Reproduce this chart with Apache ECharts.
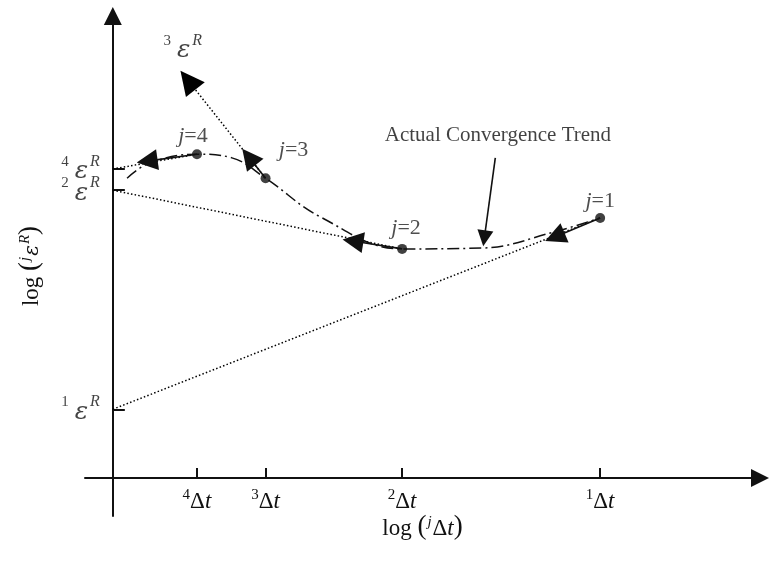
<!DOCTYPE html>
<html>
<head>
<meta charset="utf-8">
<script src="https://cdn.jsdelivr.net/npm/echarts@6/dist/echarts.min.js"></script>
<style>
html,body{margin:0;padding:0;background:#fff;}
#J_Main{width:771px;height:566px;}
</style>
</head>
<body>
<div id="J_Main"></div>
<script>
// step index j and where each step sits (log dt, log eps)
var stepNames = ['1', '2', '3', '4'];
var stepLogDt = [7.53, 4.47, 2.36, 1.30];
var stepLogEps = [5.63, 4.96, 6.49, 7.01];

// x tick marks (log of jΔt)
var dtTickValues = [1.30, 2.36, 4.47, 7.53];
var dtTickNames = ['4', '3', '2', '1'];

// extrapolated eps^R read on the y axis (x = 0)
var epsTickValues = [1.49, 6.23, 6.69];
var epsTickNames = ['1', '2', '4'];
var epsFromStep = [0, 1, 3];

// j=3 extrapolation runs off the top, ends in an arrow
var eps3TipX = 1.16, eps3TipY = 8.61;
var eps3LabelX = 1.08, eps3LabelY = 9.31;

// short solid arrows leaving each step point
var arrowEndX = [6.83, 3.71, 2.10, 0.53];
var arrowEndY = [5.22, 5.13, 6.95, 6.86];

// actual convergence trend (dash dot curve)
var trendX = [0.22, 0.57, 1.30, 1.84, 2.36, 3.21, 4.47, 5.72, 6.80, 7.53];
var trendY = [6.49, 6.82, 7.01, 6.93, 6.49, 5.65, 4.96, 4.98, 5.32, 5.63];

// annotation
var noteText = 'Actual Convergence Trend';
var noteX = 5.95, noteY = 7.42;
var noteArrowFrom = [5.91, 6.93];
var noteArrowTo = [5.74, 5.19];

var FONT = 'Liberation Serif';
var GREEK = 'DejaVu Serif';
var INK = '#111';

var epsRich = {
    s: {fontSize: 15, fontFamily: FONT, color: INK, verticalAlign: 'bottom', padding: [0, 6, 15, 0]},
    e: {fontSize: 25, fontFamily: GREEK, fontStyle: 'italic', color: INK, verticalAlign: 'bottom'},
    r: {fontSize: 16, fontFamily: FONT, fontStyle: 'italic', color: INK, verticalAlign: 'bottom', padding: [0, 0, 15, 2]}
};
var epsFormat = function(name){ return '{s|' + name + '}{e|ε}{r|R}'; };

var nameRich = {
    n: {fontSize: 23, fontFamily: FONT, color: INK, verticalAlign: 'bottom'},
    p: {fontSize: 27, fontFamily: FONT, color: INK, verticalAlign: 'bottom'},
    s: {fontSize: 15, fontFamily: FONT, fontStyle: 'italic', color: INK, verticalAlign: 'bottom', padding: [0, 1, 10, 1]},
    d: {fontSize: 23, fontFamily: FONT, color: INK, verticalAlign: 'bottom'},
    i: {fontSize: 23, fontFamily: FONT, fontStyle: 'italic', color: INK, verticalAlign: 'bottom'},
    g: {fontSize: 20, fontFamily: GREEK, fontStyle: 'italic', color: INK, verticalAlign: 'bottom'},
    r: {fontSize: 15, fontFamily: FONT, fontStyle: 'italic', color: INK, verticalAlign: 'bottom', padding: [0, 0, 10, 1]}
};

var viewContainer = document.getElementById('J_Main');
var myChart = echarts.init(viewContainer);

var trendData = trendX.map(function(x, i){ return [x, trendY[i]]; });
var stepLabelOffset = [[0, 0], [4, -4], [28, -11], [-4, -1]];
var stepData = stepLogDt.map(function(x, i){
    return {name: stepNames[i], value: [x, stepLogEps[i]], label: {offset: stepLabelOffset[i]}};
});

var epsTickData = epsTickValues.map(function(v, i){
    return {name: epsTickNames[i], value: [0, v]};
});

var dottedLines = epsTickValues.map(function(v, i){
    var k = epsFromStep[i];
    return {coords: [[0, v], [stepLogDt[k], stepLogEps[k]]]};
});

var arrowLines = arrowEndX.map(function(x, i){
    return {coords: [[stepLogDt[i], stepLogEps[i]], [x, arrowEndY[i]]]};
});

var option = {
    animation: false,
    grid: {left: 85, right: 11, top: 16, bottom: 50, outerBoundsMode: 'none', containLabel: false},
    xAxis: {
        type: 'value',
        min: -0.43,
        max: 10,
        splitLine: {show: false},
        axisLine: {
            show: true,
            onZero: true,
            symbol: ['none', 'triangle'],
            symbolSize: [18, 18],
            lineStyle: {color: INK, width: 2}
        },
        axisTick: {show: true, inside: true, length: 10, customValues: dtTickValues, lineStyle: {color: INK, width: 2}},
        axisLabel: {
            customValues: dtTickValues,
            hideOverlap: false,
            margin: -28,
            formatter: function(v){
                var i = dtTickValues.indexOf(v);
                return '{s|' + dtTickNames[i] + '}{d|Δ}{t|t}';
            },
            rich: {
                s: {fontSize: 15, fontFamily: FONT, color: INK, verticalAlign: 'bottom', padding: [0, 0, 10, 0]},
                d: {fontSize: 23, fontFamily: FONT, color: INK, verticalAlign: 'bottom'},
                t: {fontSize: 23, fontFamily: FONT, fontStyle: 'italic', color: INK, verticalAlign: 'bottom'}
            }
        },
        name: '{n|log }{p|(}{s|j}{d|Δ}{i|t}{p|)}',
        nameLocation: 'middle',
        nameGap: -3,
        nameMoveOverlap: false,
        nameTextStyle: {rich: nameRich}
    },
    yAxis: {
        type: 'value',
        min: -0.82,
        max: 10,
        splitLine: {show: false},
        axisLine: {
            show: true,
            onZero: true,
            symbol: ['none', 'triangle'],
            symbolSize: [18, 18],
            lineStyle: {color: INK, width: 2}
        },
        axisTick: {show: true, inside: true, length: 12, customValues: epsTickValues, lineStyle: {color: INK, width: 2}},
        axisLabel: {show: false},
        name: '{n|log }{p|(}{s|j}{g|ε}{r|R}{p|)}',
        nameLocation: 'middle',
        nameRotate: 90,
        nameGap: 42,
        nameTextStyle: {rich: nameRich}
    },
    series: [{
        type: 'line',
        name: 'trend',
        data: trendData,
        smooth: 0.4,
        showSymbol: false,
        silent: true,
        lineStyle: {color: INK, width: 1.5, type: [12, 4, 2, 4]},
        z: 2
    }, {
        type: 'lines',
        coordinateSystem: 'cartesian2d',
        data: dottedLines,
        silent: true,
        symbol: ['none', 'none'],
        lineStyle: {color: '#000', width: 1.5, type: [1.5, 2.2], opacity: 1},
        z: 1
    }, {
        type: 'lines',
        coordinateSystem: 'cartesian2d',
        data: [{coords: [[stepLogDt[2], stepLogEps[2]], [eps3TipX, eps3TipY]]}],
        silent: true,
        symbol: ['none', 'triangle'],
        symbolSize: [16, 24],
        lineStyle: {color: '#000', width: 1.5, type: [1.5, 2.2], opacity: 1},
        itemStyle: {color: INK},
        z: 3
    }, {
        type: 'lines',
        coordinateSystem: 'cartesian2d',
        data: arrowLines,
        silent: true,
        symbol: ['none', 'triangle'],
        symbolSize: [16, 21],
        lineStyle: {color: INK, width: 1.6, opacity: 1},
        z: 3
    }, {
        type: 'lines',
        coordinateSystem: 'cartesian2d',
        data: [{coords: [noteArrowFrom, noteArrowTo]}],
        silent: true,
        symbol: ['none', 'triangle'],
        symbolSize: [12, 16],
        lineStyle: {color: INK, width: 1.6, opacity: 1},
        z: 3
    }, {
        type: 'scatter',
        data: stepData,
        symbolSize: 10,
        silent: true,
        itemStyle: {color: INK},
        label: {
            show: true,
            position: 'top',
            distance: 1,
            formatter: function(p){ return '{j|j}{n|=' + p.name + '}'; },
            rich: {
                j: {fontSize: 22, fontFamily: FONT, fontStyle: 'italic', color: '#222'},
                n: {fontSize: 22, fontFamily: FONT, color: '#222'}
            }
        },
        z: 4
    }, {
        type: 'scatter',
        data: epsTickData,
        symbolSize: 0,
        silent: true,
        label: {
            show: true,
            position: 'left',
            distance: 13,
            formatter: function(p){ return epsFormat(p.name); },
            rich: epsRich
        },
        z: 4
    }, {
        type: 'scatter',
        data: [
            {value: [noteX, noteY], label: {formatter: noteText, fontSize: 21, fontFamily: FONT, color: INK}},
            {value: [eps3LabelX, eps3LabelY], label: {formatter: epsFormat('3'), rich: epsRich}}
        ],
        symbolSize: 0,
        silent: true,
        label: {show: true, position: 'inside'},
        z: 4
    }]
};

myChart.setOption(option);
</script>
</body>
</html>
